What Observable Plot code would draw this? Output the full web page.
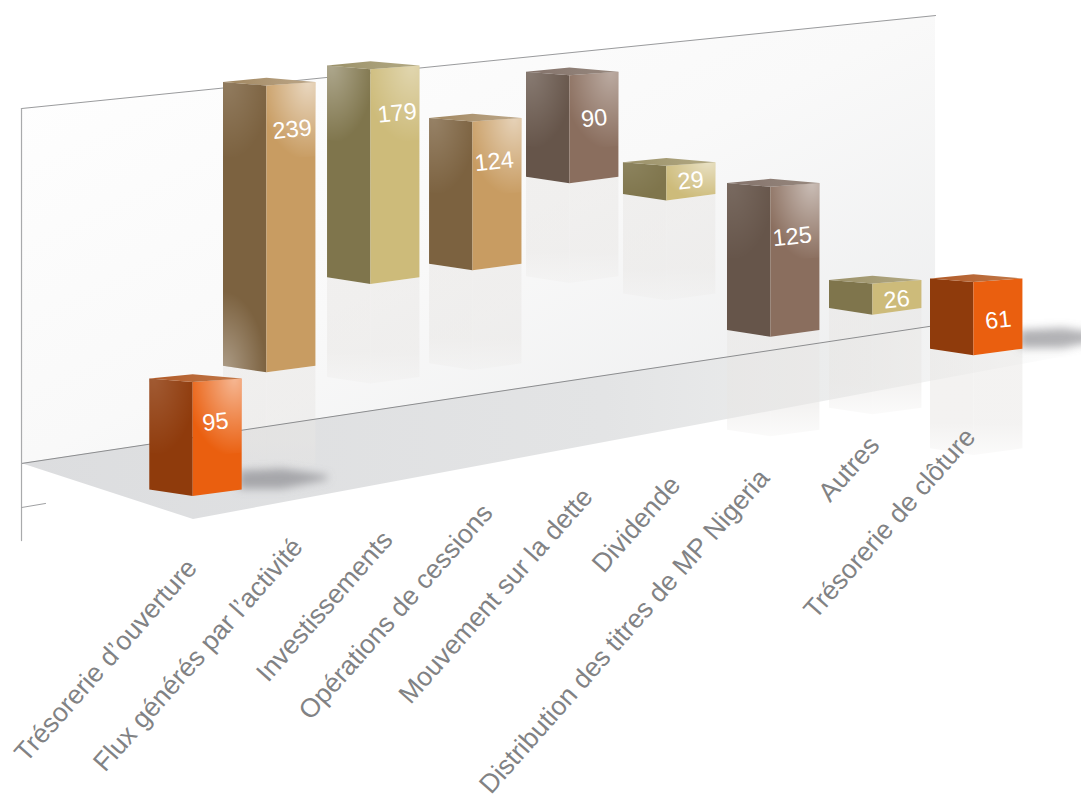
<!DOCTYPE html>
<html lang="fr">
<head>
<meta charset="utf-8">
<script src="https://cdn.jsdelivr.net/npm/d3@7"></script>
<script src="https://cdn.jsdelivr.net/npm/@observablehq/plot@0.6"></script>
<style>
  html, body { margin: 0; padding: 0; background: #fff; }
  svg { display: block; }
</style>
</head>
<body>
<div id="chart"></div>
<script>
// ---- Data ----
const categories = ["Trésorerie d’ouverture", "Flux générés par l’activité", "Investissements", "Opérations de cessions", "Mouvement sur la dette", "Dividende", "Distribution des titres de MP Nigeria", "Autres", "Trésorerie de clôture"];
const values = [95, 239, 179, 124, 90, 29, 125, 26, 61];
// level (same units as values) on which each floating bar rests
const barBases = [0, 92, 150, 146, 204, 175, 46, 49, 0];
const kinds = ["orange", "tan", "olive", "tan", "taupe", "olive", "taupe", "olive", "orange"];

// ---- Layout in scale units (x: category slots, y: value units) ----
const slots = [0.27, 1, 2.03, 3.04, 4, 4.96, 5.99, 7, 8];
const tickEndX = [0.688, 1.735, 2.625, 3.615, 4.605, 5.475, 6.355, 7.445, 8.395];
const tickEndY = [-55.7, -38.2, -32.3, -9.8, 3.5, 13.5, 19.3, 46.8, 53.5];
const labelDrop = [33, 36.3, 36.3, 33, 35.5, 12, 41.3, 13, 31.3];
const labelShift = [0.22, 0.25, 0.26, 0.21, 0.24, 0.235, 0.21, 0.235, 0.24];
const rightGlow = [0.55, 0.6, 0.4, 0.55, 0.42, 0.55, 0.55, 0, 0];
const leftGlow = [0.16, 0.16, 0.36, 0.2, 0.22, 0.1, 0.12, 0, 0];
const footGlow = [0, 0.38, 0, 0, 0, 0, 0, 0, 0];
const rise = 15.17;            // value units the ground climbs per slot
const leftW = 0.43, rightW = 0.485;
const glowSpan = 62;           // value units covered by a corner highlight
const mirror = 83;             // value units of the pale reflection under a bar
const palette = {
  orange: {front: "#EA5F0F", side: "#8F3B0C", top1: "#B05A28", top2: "#C27848"},
  tan:    {front: "#C89C62", side: "#7C6240", top1: "#A0865F", top2: "#BDA88A"},
  olive:  {front: "#CDBB7A", side: "#7F754C", top1: "#9A9068", top2: "#B3AA84"},
  taupe:  {front: "#8A6E5E", side: "#66554A", top1: "#83726A", top2: "#98897F"}
};

const bars = categories.map((name, i) => {
  const g = rise * (slots[i] - 0.27);
  const low = barBases[i] + g, high = barBases[i] + values[i] + g;
  return {name, i, value: values[i], kind: kinds[i], g, low, high,
    a: slots[i], m: slots[i] + leftW, b: slots[i] + leftW + rightW};
});

const face = (x1, lowA, highA, x2, lowB, highB) => [
  {x: x1, y1: lowA, y2: highA},
  {x: x2, y1: lowB, y2: highB}
];
const leftFace = d => face(d.a, d.low + 5.5, d.high + 3, d.m, d.low, d.high);
const rightFace = d => face(d.m, d.low, d.high, d.b, d.low + 5.5, d.high + 3);
const topFace = d => [
  {x: d.a, y1: d.high + 3, y2: d.high + 3},
  {x: d.m, y1: d.high, y2: d.high + 6.5},
  {x: d.b, y1: d.high + 3, y2: d.high + 3}
];
const area = (rows, fill, extra = {}) =>
  Plot.area(rows, {x1: "x", y1: "y1", y2: "y2", curve: "linear", fill, ...extra});
const polyline = (xs, ys, stroke, w = 1) =>
  Plot.line(xs.map((x, k) => ({x, y: ys[k]})), {x: "x", y: "y", stroke, strokeWidth: w});

// ---- Gradients ----
function defs() {
  const d = d3.create("svg:defs");
  const linear = (id, coords, stops) => {
    const g = d.append("linearGradient").attr("id", id)
      .attr("x1", coords[0]).attr("y1", coords[1]).attr("x2", coords[2]).attr("y2", coords[3]);
    stops.forEach(([o, c, a = 1]) => g.append("stop").attr("offset", o).attr("stop-color", c).attr("stop-opacity", a));
  };
  linear("wall", [0, 0, 1, 1], [[0, "#ffffff"], [0.5, "#f9f9f9"], [1, "#eaebec"]]);
  linear("floor", [0, 0, 1, 0], [[0, "#dcdddf"], [0.55, "#e3e4e5"], [0.8, "#edeeee"], [1, "#ffffff"]]);
  linear("mirror", [0, 0, 0, 1], [[0, "#e8e6e4", 1], [0.7, "#e8e6e4", 1], [1, "#e8e6e4", 0.35]]);
  for (const k in palette) linear("top-" + k, [0, 0, 1, 0], [[0, palette[k].top1], [1, palette[k].top2]]);
  const radial = (id, cx, cy) => {
    const g = d.append("radialGradient").attr("id", id).attr("cx", cx).attr("cy", cy).attr("r", 1);
    g.append("stop").attr("offset", 0).attr("stop-color", "#fff").attr("stop-opacity", 1);
    g.append("stop").attr("offset", 1).attr("stop-color", "#fff").attr("stop-opacity", 0);
  };
  radial("glow-right", 0.85, 0);
  radial("glow-left", 0.1, 0);
  radial("glow-foot", 0, 1);
  d.append("filter").attr("id", "soft")
    .attr("x", "-30%").attr("y", "-120%").attr("width", "160%").attr("height", "340%")
    .append("feGaussianBlur").attr("stdDeviation", 4.5);
  return d.node();
}
const softened = (index, scales, values, dimensions, context, next) => {
  const g = next(index, scales, values, dimensions, context);
  g.setAttribute("filter", "url(#soft)");
  return g;
};

// ---- Marks ----
const marks = [defs];

// wall and floor
marks.push(area(face(-1, 27.5, 323.3, 8.05, 142.5, 400.8), "url(#wall)"));
marks.push(area([
  {x: -1, y1: 27.5, y2: 27.5},
  {x: 0.703, y1: -19.2, y2: 49},
  {x: 8.05, y1: 96.7, y2: 142.5},
  {x: 9.495, y1: 119.2, y2: 134}
], "url(#floor)"));

// reflections
for (const d of bars.slice(1)) {
  const shift = r => ({x: r.x, y1: r.y1 - mirror, y2: r.y1});
  marks.push(area(leftFace(d).map(shift), "url(#mirror)", {fillOpacity: 0.52}));
  marks.push(area(rightFace(d).map(shift), "url(#mirror)", {fillOpacity: 0.5}));
}

// cast shadows of the two resting bars
for (const i of [0, 8]) {
  const d = bars[i];
  marks.push(area([
    {x: d.b - 0.03, y1: d.low + 6, y2: d.low + 21},
    {x: d.b + 0.4, y1: d.low + 6, y2: d.low + 23},
    {x: d.b + 0.85, y1: d.low + 14, y2: d.low + 17}
  ], "#808185", {fillOpacity: 0.6, render: softened}));
}

// frame lines
marks.push(polyline([-1, 8.05], [323.3, 400.8], "#9a9b9d"));
marks.push(polyline([-1, 8.05], [27.5, 142.5], "#8c8d8f"));
marks.push(polyline([-1, -1], [323.3, -36.7], "#a9aaac", 1.2));
marks.push(polyline([-1, -0.762], [-9.2, -5.8], "#a0a1a3"));

// bars
for (const d of bars) {
  const c = palette[d.kind];
  const cap = Math.min(glowSpan, d.high - d.low);
  const glowL = leftFace(d).map(r => ({x: r.x, y2: r.y2, y1: r.y2 - cap}));
  const glowR = rightFace(d).map(r => ({x: r.x, y2: r.y2, y1: r.y2 - cap}));
  const foot = leftFace(d).map(r => ({x: r.x, y1: r.y1, y2: r.y1 + cap}));
  marks.push(area(leftFace(d), c.side));
  marks.push(area(rightFace(d), c.front));
  if (leftGlow[d.i]) marks.push(area(glowL, "url(#glow-left)", {fillOpacity: leftGlow[d.i]}));
  if (rightGlow[d.i]) marks.push(area(glowR, "url(#glow-right)", {fillOpacity: rightGlow[d.i]}));
  if (footGlow[d.i]) marks.push(area(foot, "url(#glow-foot)", {fillOpacity: footGlow[d.i]}));
  marks.push(area(topFace(d), `url(#top-${d.kind})`));
}

// value labels on the front faces
marks.push(Plot.text(bars, {
  x: d => d.m + labelShift[d.i],
  y: d => d.high - labelDrop[d.i],
  text: d => String(d.value),
  fill: "#fff",
  fontSize: 23.5,
  rotate: -6,
  textAnchor: "middle",
  lineAnchor: "middle"
}));

// category labels
marks.push(Plot.text(bars, {
  x: d => tickEndX[d.i],
  y: d => tickEndY[d.i],
  text: "name",
  fill: "#818284",
  fontSize: 26.5,
  rotate: -48.5,
  textAnchor: "end",
  lineAnchor: "middle"
}));

const chart = Plot.plot({
  width: 1081,
  height: 799,
  margin: 0,
  style: {background: "transparent", fontFamily: "'Liberation Sans', Arial, sans-serif"},
  x: {type: "linear", domain: [-1.208, 9.495], range: [0, 1081], axis: null},
  y: {type: "linear", domain: [-252.5, 413.33], range: [799, 0], axis: null},
  marks
});
document.getElementById("chart").append(chart);
</script>
</body>
</html>
